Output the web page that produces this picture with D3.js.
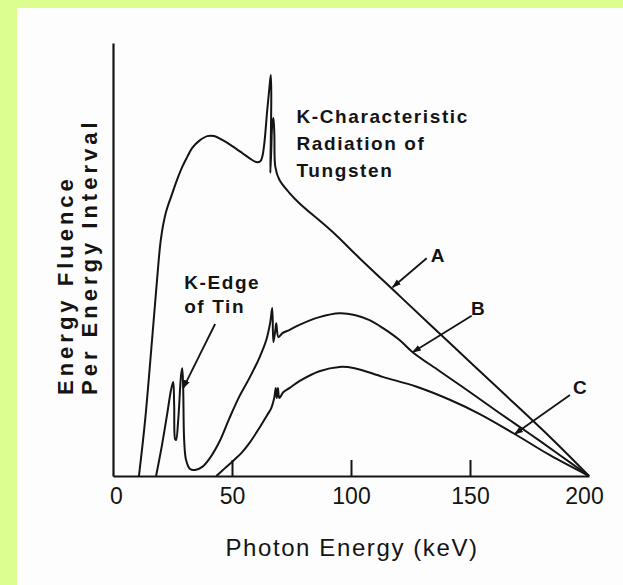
<!DOCTYPE html>
<html><head><meta charset="utf-8">
<script src="https://cdn.jsdelivr.net/npm/d3@7"></script>
<style>
html,body{margin:0;padding:0;background:#fff;}
svg{display:block;}
</style></head><body>
<script>
// ---- data (photon energy in keV, relative energy fluence) ----
const xTicks = [0, 50, 100, 150, 200];

const keVA = [10.9,13.5,16.4,18.5,20.2,22.3,24.8,26.9,29.1,31.2,33.3,36.2,39.6,42.5,45.9,50.1,54.3,57.3,60.2,61.9,62.7,63.6,64.8,65.7,66.3,66.5,66.3,66.1,66.5,66.9,67.4,67.8,68.2,69.9,74.1,78.3,92.2,103.6,120.4,141.5,162.5,183.6,200];
const fluA = [0,12.9,31.4,45.3,55.0,61.0,65.1,68.4,71.4,73.7,75.8,77.4,78.5,78.5,77.6,76.2,74.6,73.4,72.5,72.7,73.7,76.9,84.5,89.6,92.6,88.0,77.6,70.0,75.3,81.1,82.7,78.8,71.4,68.4,65.4,63.0,56.4,50.3,41.6,30.7,19.9,9.0,0];

const keVB = [18.1,20.6,22.7,24.4,25.3,25.7,26.1,26.5,27.4,28.6,29.1,29.5,29.9,30.7,32.4,34.5,37.5,40.4,44.6,48.8,53.1,57.3,61.5,64.4,66.1,66.9,67.4,68.2,68.6,69.5,71.2,74.1,78.3,86.7,95.2,101.5,107.8,113.3,120.4,125.9,137.3,149.9,162.5,175.2,187.8,200];
const fluB = [0,7.2,14.1,19.9,21.7,16.4,8.5,8.3,12.9,23.3,24.9,19.9,8.3,3.7,1.6,1.4,2.1,3.9,7.8,13.2,18.4,22.6,27.3,31.4,35.6,38.8,30.9,33.7,35.3,32.1,33.0,33.7,34.9,36.7,37.6,37.2,36.0,34.2,31.4,28.6,24.2,19.4,14.5,9.7,4.8,0];

const keVC = [43.4,47.6,50.9,53.9,57.3,61.5,64.8,66.5,67.8,68.4,68.8,69.3,69.9,71.6,74.1,78.3,86.7,95.2,101.5,113.3,127.6,141.5,154.1,168.8,183.6,200];
const fluC = [0,2.1,3.7,5.3,7.6,11.1,14.1,15.7,18.2,20.3,18.0,20.3,18.0,19.4,20.3,21.9,24.2,25.2,24.9,22.9,20.6,17.6,14.3,9.7,4.8,0];

const curveNames = ["A", "B", "C"];
const nameKeV = [136.4, 153.3, 196.2];
const nameVal = [49.4, 37.2, 18.9];
const leaderFromKeV = [131.8, 150.7, 192.0];
const leaderFromVal = [50.3, 37.0, 18.7];
const leaderToKeV = [117.5, 125.9, 168.8];
const leaderToVal = [43.6, 28.6, 9.7];

const tungstenNote = ["K-Characteristic", "Radiation of", "Tungsten"];
const tungstenAt = [77.1, 81.5];
const tinNote = ["K-Edge", "of Tin"];
const tinAt = [29.9, 43.2];
const tinLeaderFrom = [42.9, 35.1];
const tinLeaderTo = [29.5, 20.3];

const xTitle = "Photon Energy (keV)";
const yTitle = ["Energy Fluence", "Per Energy Interval"];

// ---- drawing ----
const W = 623, H = 585;
const ink = "#141414";
const font = "'Liberation Sans', Arial, sans-serif";
const svg = d3.select("body").append("svg").attr("width", W).attr("height", H);
svg.append("rect").attr("width", W).attr("height", H).attr("fill", "#dcfd8f");
svg.append("rect").attr("x", 17).attr("y", 8).attr("width", W - 17).attr("height", H - 8).attr("fill", "#fdfdfd");

const x = d3.scaleLinear().domain([0, 200]).range([113, 589]);
const y = d3.scaleLinear().domain([0, 100]).range([476, 43]);

svg.append("defs").append("marker")
  .attr("id", "arr").attr("viewBox", "0 0 10 10").attr("refX", 9).attr("refY", 5)
  .attr("markerWidth", 9).attr("markerHeight", 9).attr("markerUnits", "userSpaceOnUse")
  .attr("orient", "auto")
  .append("path").attr("d", "M0,1.5 L10,5 L0,8.5 Z").attr("fill", ink);

// axes
const xAxis = d3.axisBottom(x).tickValues(xTicks).tickFormat(d3.format("d"))
  .tickSizeInner(-16).tickSizeOuter(0).tickPadding(12);
const gx = svg.append("g").attr("transform", `translate(0,${y(0)})`).call(xAxis);
gx.select(".domain").attr("stroke", ink).attr("stroke-width", 2.2);
gx.selectAll(".tick line").attr("stroke", ink).attr("stroke-width", 2)
  .attr("opacity", d => (d === 0 || d === 200) ? 0 : 1);
gx.selectAll(".tick text").attr("fill", ink)
  .attr("dx", d => d === 0 ? 3 : (d === 200 ? -5 : 0))
  .style("font-family", font).style("font-size", "23px");

const yAxis = d3.axisLeft(y).tickValues([]).tickSizeOuter(0);
const gy = svg.append("g").attr("transform", `translate(${x(0)},0)`).call(yAxis);
gy.select(".domain").attr("stroke", ink).attr("stroke-width", 2.2);

// curves
const line = d3.line().x(d => x(d[0])).y(d => y(d[1])).curve(d3.curveCatmullRom.alpha(0.5));
[[keVA, fluA], [keVB, fluB], [keVC, fluC]].forEach(([kv, fl]) => {
  svg.append("path").datum(kv.map((k, i) => [k, fl[i]]))
    .attr("d", line).attr("fill", "none").attr("stroke", ink)
    .attr("stroke-width", 2).attr("stroke-linejoin", "round");
});

// curve leaders and labels
curveNames.forEach((n, i) => {
  svg.append("line")
    .attr("x1", x(leaderFromKeV[i])).attr("y1", y(leaderFromVal[i]))
    .attr("x2", x(leaderToKeV[i])).attr("y2", y(leaderToVal[i]))
    .attr("stroke", ink).attr("stroke-width", 1.8).attr("marker-end", "url(#arr)");
  svg.append("text").attr("x", x(nameKeV[i])).attr("y", y(nameVal[i]))
    .attr("text-anchor", "middle").attr("fill", ink)
    .style("font-family", font)
    .style("font-weight", "bold").style("font-size", "19px").text(n);
});

svg.append("line")
  .attr("x1", x(tinLeaderFrom[0])).attr("y1", y(tinLeaderFrom[1]))
  .attr("x2", x(tinLeaderTo[0])).attr("y2", y(tinLeaderTo[1]))
  .attr("stroke", ink).attr("stroke-width", 1.8).attr("marker-end", "url(#arr)");

function note(lines, at, gap) {
  const t = svg.append("text").attr("fill", ink)
    .style("font-family", font)
    .style("font-weight", "bold").style("font-size", "19px").style("letter-spacing", "1.6px");
  lines.forEach((s, i) => {
    t.append("tspan").attr("x", x(at[0])).attr("y", y(at[1]) + i * gap).text(s);
  });
}
note(tungstenNote, tungstenAt, 27);
note(tinNote, tinAt, 24);

// axis titles
svg.append("text").attr("x", 352).attr("y", 556).attr("text-anchor", "middle").attr("fill", ink)
  .style("font-family", font).style("font-size", "24px")
  .style("letter-spacing", "1.6px").text(xTitle);

const yt = svg.append("text").attr("transform", "translate(0,395) rotate(-90)").attr("fill", ink)
  .style("font-family", font).style("font-weight", "bold")
  .style("font-size", "22px").style("letter-spacing", "4px");
yt.append("tspan").attr("x", 0).attr("y", 73).text(yTitle[0]);
yt.append("tspan").attr("x", 0).attr("y", 97).text(yTitle[1]);
</script>
</body></html>
